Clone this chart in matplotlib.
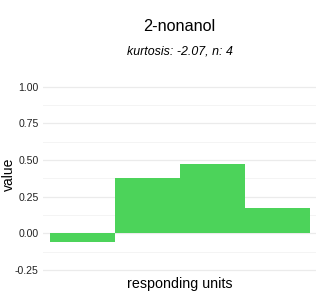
# bar chart of responding units for 2-nonanol
import numpy as np
import matplotlib.pyplot as plt

plt.rcParams['font.family'] = ['Liberation Sans', 'DejaVu Sans']

# values
units = [1, 2, 3, 4]
values = [-0.057, 0.375, 0.473, 0.173]
yticks = [-0.25, 0.00, 0.25, 0.50, 0.75, 1.00]
title = '2-nonanol'
subtitle = 'kurtosis: -2.07, n: 4'

fig = plt.figure(figsize=(3.2, 3.0), dpi=100)
ax = fig.add_axes([43 / 320, 1 - 276 / 300, 273 / 320, 196 / 300])

ax.bar(units, values, width=1.0, color='#4cd35a', zorder=2)

ax.set_xlim(0.39, 4.6)
ax.set_ylim(-0.291, 1.046)
ax.set_yticks(yticks)
ax.set_yticklabels([f'{t:.2f}' for t in yticks])
ax.set_yticks(np.arange(-0.125, 1.0, 0.25), minor=True)
ax.set_xticks([])

ax.grid(axis='y', which='major', color='#ebebeb', linewidth=0.9, zorder=0)
ax.grid(axis='y', which='minor', color='#f4f4f4', linewidth=0.7, zorder=0)
ax.tick_params(axis='y', which='both', length=0, labelsize=7.6, colors='#222222', pad=3)
for s in ax.spines.values():
    s.set_visible(False)

ax.set_ylabel('value', fontsize=10)
ax.yaxis.set_label_coords(-0.098, 0.52)
ax.set_xlabel('responding units', fontsize=10.3, labelpad=1)

fig.text(179.5 / 320, 1 - 26.5 / 300, title, ha='center', va='center', fontsize=11.7)
fig.text(179.5 / 320, 1 - 51 / 300, subtitle, ha='center', va='center',
         fontsize=8.9, style='italic')

fig.savefig('out.png', dpi=100)
